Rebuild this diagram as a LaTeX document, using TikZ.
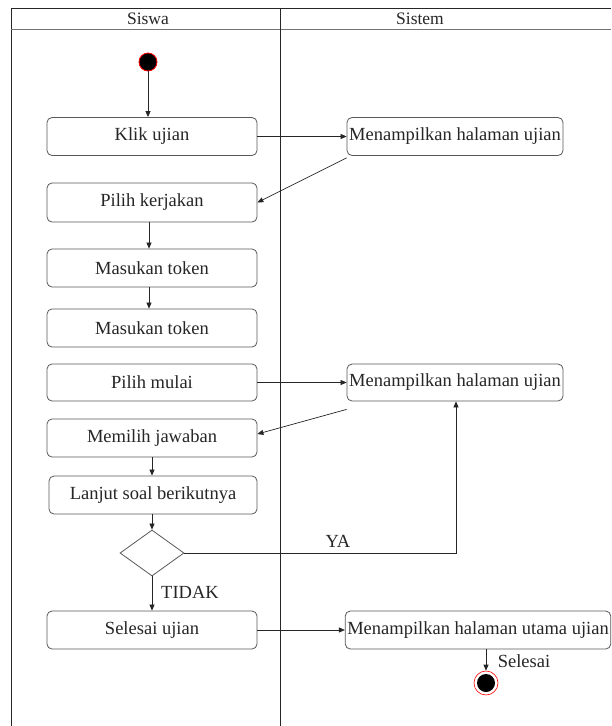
\documentclass[tikz,border=0pt]{standalone}
\usepackage{fontspec}
\setmainfont{Liberation Serif}
\usetikzlibrary{arrows.meta,shapes.geometric}
\begin{document}
\begin{tikzpicture}[x=1pt,y=-1pt,
  every node/.style={font=\fontsize{18.5}{21}\selectfont, text=black!85},
  act/.style={draw=black!65, line width=0.8pt, rounded corners=5pt, minimum width=210pt, minimum height=38pt, inner sep=2pt},
  decide/.style={draw=black!65, line width=0.8pt, diamond, minimum width=64pt, minimum height=46pt, inner sep=0pt, aspect=1.4},
  flow/.style={draw=black!85, line width=0.7pt, -{Triangle[length=6pt,width=5pt]}},
  lbl/.style={inner sep=1pt}]
\useasboundingbox (0,0) rectangle (611,726);
\fill[white] (0,0) rectangle (611,726);

% swimlane frame
\draw[line width=1pt, black!85] (11,726) -- (11,8) -- (611,8);
\draw[line width=1pt, black!55] (11,29.5) -- (611,29.5);
\draw[line width=0.8pt, black!85] (280,8) -- (280,726);
\node[font=\fontsize{17.5}{20}\selectfont] (laneA) at (148,19) {Siswa};
\node[font=\fontsize{17.5}{20}\selectfont] (laneB) at (420,19) {Sistem};

% initial state
\node[circle, fill=black, draw=red, line width=0.8pt, minimum size=18pt, inner sep=0pt] (start) at (148,62) {};

% activities
\node[act] (klik) at (152,136.5) {Klik ujian};
\node[act, minimum width=216pt] (tampilA) at (455,136.5) {Menampilkan halaman ujian};
\node[act, minimum height=39pt] (pilih) at (152,202.5) {Pilih kerjakan};
\node[act] (tokenA) at (152,268) {Masukan token};
\node[act] (tokenB) at (152,328) {Masukan token};
\node[act, minimum height=37pt] (mulai) at (152,382.5) {Pilih mulai};
\node[act, minimum width=216pt, minimum height=37pt] (tampilB) at (455,382.5) {Menampilkan halaman ujian};
\node[act] (jawab) at (152,438) {Memilih jawaban};
\node[act, minimum width=208pt] (lanjut) at (153,495) {Lanjut soal berikutnya};
\node[decide] (cek) at (152,553) {};
\node[act] (selesai) at (152,630) {Selesai ujian};
\node[act, minimum width=262pt] (utama) at (478,630) {Menampilkan halaman utama ujian};

% final state
\node[circle, draw=red, line width=0.6pt, fill=white, minimum size=24pt, inner sep=0pt] (stop) at (486,683) {};
\fill[black] (stop.center) circle (9pt);

% connectors
\draw[flow] (start) -- (start |- klik.north);
\draw[flow] (klik.east) -- (tampilA.west);
\draw[flow] ([yshift=-2pt]tampilA.south west) -- (pilih.east);
\draw[flow] (pilih.south -| 149,0) -- (149,0 |- tokenA.north);
\draw[flow] (tokenA.south -| 149,0) -- (149,0 |- tokenB.north);
\draw[flow] (mulai.east) -- (tampilB.west);
\draw[flow] ([yshift=-8pt]tampilB.south west) -- ([yshift=4pt]jawab.east);
\draw[flow] (jawab.south) -- (jawab.south |- lanjut.north);
\draw[flow] (cek.north |- lanjut.south) -- (cek.north);
\draw[flow] (cek.east) -- (456,0 |- cek.east) -- (456,0 |- tampilB.south);
\node[lbl] (ya) at (338,541) {YA};
\draw[flow] (cek.south) -- (cek.south |- selesai.north);
\node[lbl] (tidak) at (190,592) {TIDAK};
\draw[flow] (selesai.east) -- (utama.west);
\draw[flow] (stop.north |- utama.south) -- (stop.north);
\node[lbl] (akhir) at (524,661) {Selesai};
\end{tikzpicture}
\end{document}
